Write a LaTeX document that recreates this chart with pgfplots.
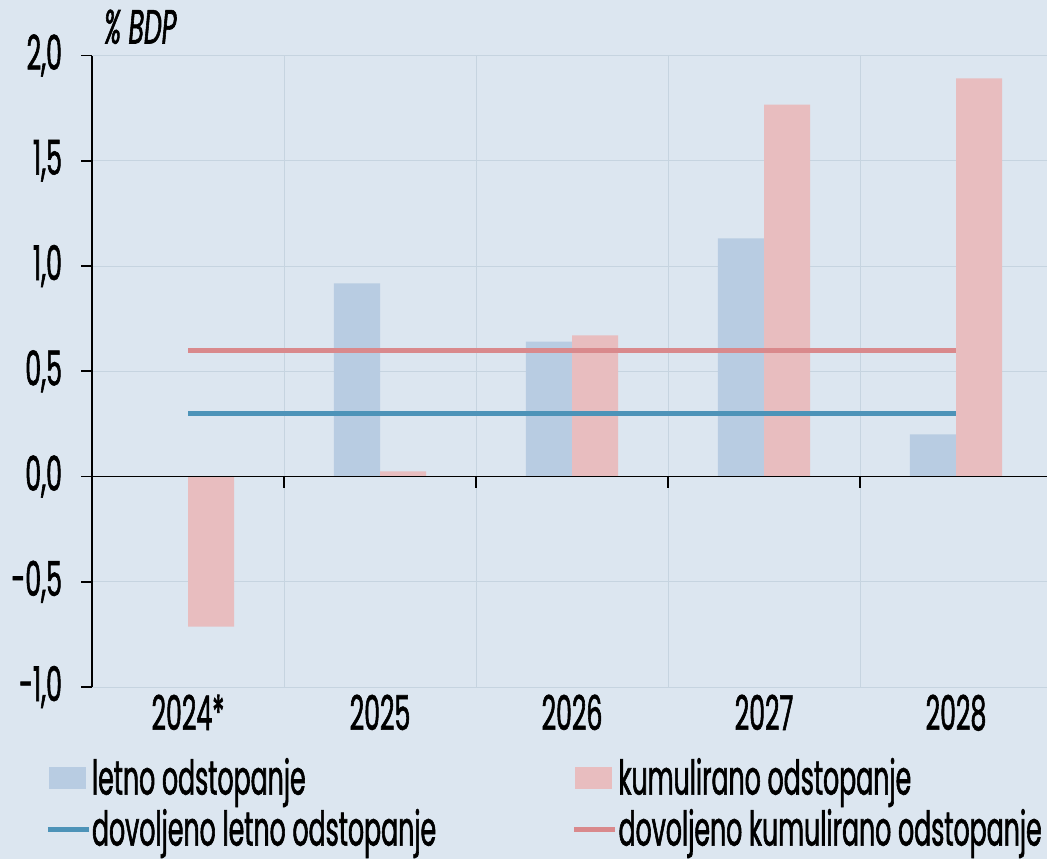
\documentclass[border=0pt]{standalone}
\usepackage{fontspec}
\setmainfont{Poppins}[FakeStretch=0.525, FakeBold=1.2]
\usepackage{pgfplots}
\pgfplotsset{compat=1.18}
\definecolor{bgc}{RGB}{220,230,240}
\definecolor{gridc}{RGB}{198,212,224}
\definecolor{barblue}{RGB}{184,204,226}
\definecolor{barpink}{RGB}{232,189,191}
\definecolor{lineblue}{RGB}{77,147,184}
\definecolor{linepink}{RGB}{217,137,140}
\newcommand\lab{\fontsize{24}{28}\selectfont}

\begin{document}
\begin{tikzpicture}
\fill[bgc] (-46pt,-86pt) rectangle (477.5pt,343.5pt);
\begin{axis}[
  at={(0pt,0pt)}, anchor=south west,
  scale only axis, width=477.5pt, height=315.75pt,
  xmin=-0.5, xmax=4.474, ymin=-1, ymax=2,
  clip=false,
  axis y line*=left, axis x line*=bottom,
  x axis line style={draw=none},
  y axis line style={line width=0.9pt},
  xtick={0,1,2,3,4},
  xticklabels={2024*,2025,2026,2027,2028},
  minor xtick={0.5,1.5,2.5,3.5},
  x tick style={draw=none},
  xminorgrids=true,
  minor grid style={gridc, line width=0.5pt},
  ytick={-1,-0.5,0,0.5,1,1.5,2},
  yticklabels={{-1,0},{-0,5},{0,0},{0,5},{1,0},{1,5},{2,0}},
  ymajorgrids=true,
  major grid style={gridc, line width=0.5pt},
  y tick style={black, line width=0.9pt},
  tick align=outside, major tick length=5.5pt,
  tick label style={font=\lab},
  yticklabel style={xshift=-6pt},
  xticklabel style={anchor=base, yshift=-16pt},
  legend columns=2,
  legend cell align=left,
  legend style={at={(axis description cs:-0.049,-0.119)}, anchor=north west,
    draw=none, fill=none, font=\lab, inner sep=0pt,
    nodes={inner xsep=0.5pt, inner ysep=0pt, text height=16pt, text depth=5pt},
    row sep=4.5pt,
    /tikz/every even column/.append style={column sep=67.5pt}},
]
\addplot[draw=none, fill=barblue, ybar, bar width=0.24, bar shift=-0.12,
  legend image code/.code={\fill[barblue] (0pt,-2.5pt) rectangle (18.5pt,8.5pt);}]
  coordinates {(1,0.917) (2,0.641) (3,1.131) (4,0.200)};
\addlegendentry{letno odstopanje}
\addplot[draw=none, fill=barpink, ybar, bar width=0.24, bar shift=0.12,
  legend image code/.code={\fill[barpink] (0pt,-2.5pt) rectangle (18.5pt,8.5pt);}]
  coordinates {(0,-0.713) (1,0.024) (2,0.670) (3,1.767) (4,1.891)};
\addlegendentry{kumulirano odstopanje}
\addplot[lineblue, line width=2.5pt,
  legend image code/.code={\draw[lineblue, line width=2.2pt] (-0.5pt,2.5pt) -- (20pt,2.5pt);}]
  coordinates {(0,0.3) (4,0.3)};
\addlegendentry{dovoljeno letno odstopanje}
\addplot[linepink, line width=2.5pt,
  legend image code/.code={\draw[linepink, line width=2.2pt] (-0.5pt,2.5pt) -- (20pt,2.5pt);}]
  coordinates {(0,0.6) (4,0.6)};
\addlegendentry{dovoljeno kumulirano odstopanje}
\draw[black, line width=0.9pt] (axis cs:-0.5,0) -- (axis cs:4.474,0);
\pgfplotsinvokeforeach{0.5,1.5,2.5,3.5}{
  \draw[black, line width=0.9pt] (axis cs:#1,0) -- ++(0pt,-5.5pt);
}
\node[anchor=base west, font=\lab\itshape, xshift=2.5pt, yshift=6pt]
  at (rel axis cs:0,1) {\% BDP};
\end{axis}
\pgfresetboundingbox
\useasboundingbox (-46pt,-86pt) rectangle (477.5pt,343.5pt);
\end{tikzpicture}
\end{document}
